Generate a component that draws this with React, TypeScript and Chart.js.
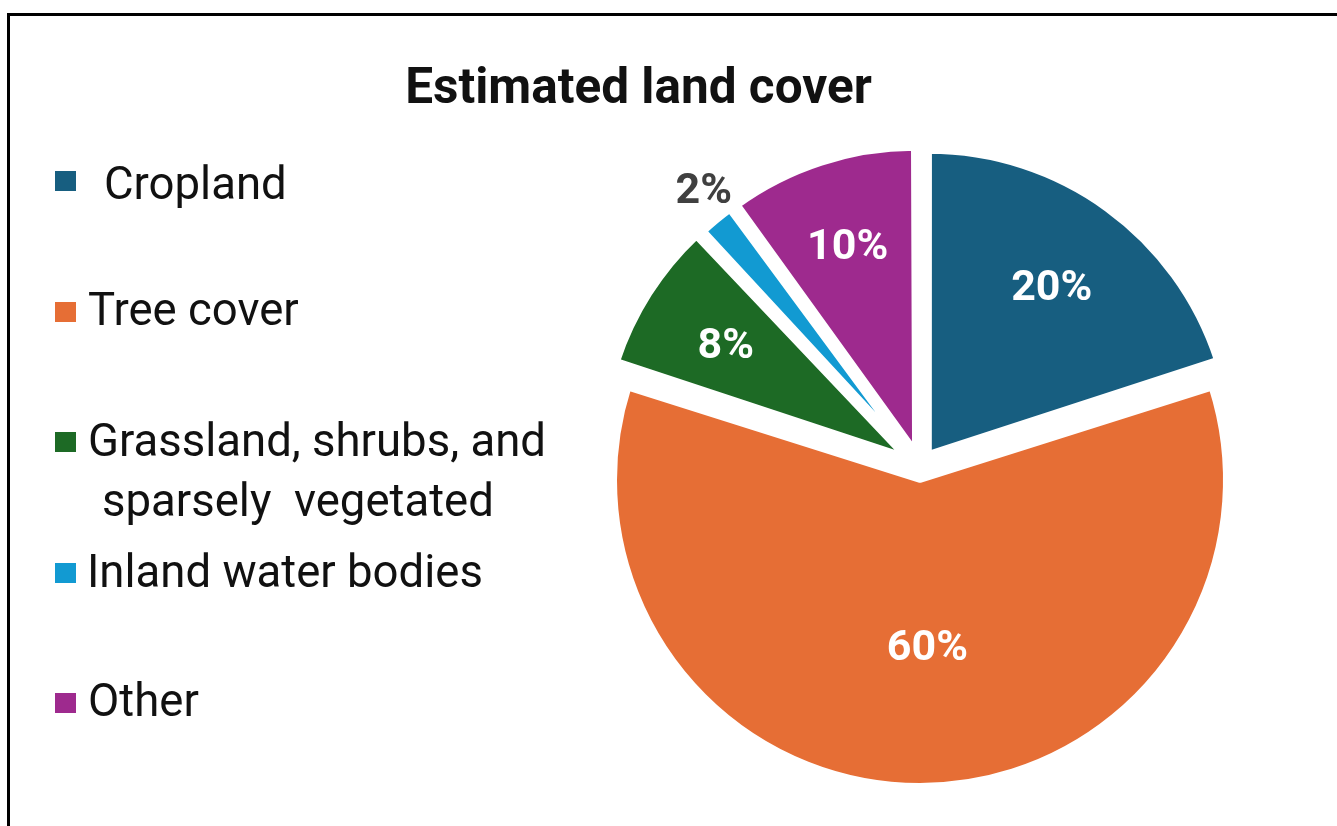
import React, { useEffect, useRef } from "react";
import { Chart, registerables } from "chart.js";

Chart.register(...registerables);

// ---- data ----
const TITLE = "Estimated land cover";
const CATEGORIES = [
  "Cropland",
  "Tree cover",
  "Grassland, shrubs, and sparsely vegetated",
  "Inland water bodies",
  "Other",
];
const LEGEND_LINES = [
  ["Cropland"],
  ["Tree cover"],
  ["Grassland, shrubs, and", "sparsely  vegetated"],
  ["Inland water bodies"],
  ["Other"],
];
const VALUES = [20, 60, 8, 2, 10];
const COLORS = ["#175E80", "#E66E35", "#1D6A25", "#129AD2", "#9E2A8E"];

// ---- styling / layout ----
const W = 1337;
const H = 826;
const PIE_RADIUS = 303;
const SLICE_RADII = [303, 306, 303, 303, 303];
const SLICE_SHIFT = [15, 14, 18, 16, 16];
const LABEL_RADIUS = [0.69, 0.545, 0.7, 1.11, 0.72];
const LABEL_ANGLE_NUDGE = [0, -0.045, 0, 0.032, 0];
const LABEL_COLORS = ["#ffffff", "#ffffff", "#ffffff", "#404040", "#ffffff"];
const LEGEND_SQUARE_CY = [181, 312, 442, 573, 703];
const LEGEND_BASELINES = [[199], [325], [456, 516], [587], [716]];
const LEGEND_X = [[104], [88], [88, 102], [87], [88]];
const TEXT_COLOR = "#111111";
const FONT = "Roboto";

const radiusPlugin = {
  id: "sliceRadius",
  afterDatasetUpdate(chart: any, args: any) {
    const meta = chart.getDatasetMeta(args.index);
    meta.data.forEach((el: any, i: number) => {
      const circ = el.circumference || 0;
      const fix = 1 - Math.sin(Math.min(Math.PI, circ));
      el.outerRadius = SLICE_RADII[i] - SLICE_SHIFT[i] * fix;
    });
  },
};

const decorPlugin = {
  id: "decor",
  beforeDraw(chart: any) {
    const ctx = chart.ctx;
    ctx.save();
    ctx.fillStyle = "#ffffff";
    ctx.fillRect(0, 0, W, H);
    ctx.fillStyle = "#000000";
    ctx.fillRect(7, 13, W - 7, 3);
    ctx.fillRect(7, 13, 3, H - 13);
    ctx.restore();
  },
  afterDraw(chart: any) {
    const ctx = chart.ctx;
    ctx.save();
    // title
    ctx.fillStyle = TEXT_COLOR;
    ctx.font = `bold 49.5px ${FONT}`;
    ctx.textAlign = "center";
    ctx.textBaseline = "alphabetic";
    ctx.fillText(TITLE, 638.5, 103);
    // legend
    ctx.textAlign = "left";
    ctx.font = `45.5px ${FONT}`;
    LEGEND_LINES.forEach((lines, i) => {
      ctx.fillStyle = COLORS[i];
      ctx.fillRect(55, LEGEND_SQUARE_CY[i] - 10, 21, 20);
      ctx.fillStyle = TEXT_COLOR;
      lines.forEach((t, j) => {
        ctx.fillText(t, LEGEND_X[i][j], LEGEND_BASELINES[i][j]);
      });
    });
    // slice labels
    const meta = chart.getDatasetMeta(0);
    const fs = 43;
    ctx.font = `bold ${fs}px ${FONT}`;
    ctx.textAlign = "center";
    meta.data.forEach((el: any, i: number) => {
      const mid = (el.startAngle + el.endAngle) / 2;
      const r = SLICE_SHIFT[i] + LABEL_RADIUS[i] * PIE_RADIUS;
      const a = mid + LABEL_ANGLE_NUDGE[i];
      const x = el.x + Math.cos(mid) * SLICE_SHIFT[i] + Math.cos(a) * (r - SLICE_SHIFT[i]);
      const y = el.y + Math.sin(mid) * SLICE_SHIFT[i] + Math.sin(a) * (r - SLICE_SHIFT[i]);
      ctx.fillStyle = LABEL_COLORS[i];
      ctx.fillText(`${VALUES[i]}%`, x, y + fs * 0.355);
    });
    ctx.restore();
  },
};

export default function App() {
  const ref = useRef<HTMLCanvasElement | null>(null);
  useEffect(() => {
    if (!ref.current) return;
    const chart = new Chart(ref.current, {
      type: "pie",
      data: {
        labels: CATEGORIES,
        datasets: [
          {
            data: VALUES,
            backgroundColor: COLORS,
            borderColor: "#ffffff",
            borderWidth: 6,
            offset: SLICE_SHIFT.map((s) => s * 4),
            hoverOffset: 0,
          },
        ],
      },
      options: {
        animation: false,
        responsive: false,
        maintainAspectRatio: false,
        devicePixelRatio: 1,
        radius: PIE_RADIUS,
        events: [],
        layout: { padding: { left: 503, right: 0, top: 130, bottom: 24 } },
        plugins: {
          legend: { display: false },
          title: { display: false },
          tooltip: { enabled: false },
        },
      } as any,
      plugins: [radiusPlugin, decorPlugin],
    });
    return () => chart.destroy();
  }, []);
  return (
    <div style={{ position: "absolute", left: 0, top: 0, width: W, height: H, background: "#fff" }}>
      <canvas ref={ref} width={W} height={H} style={{ display: "block", width: W, height: H }} />
    </div>
  );
}
